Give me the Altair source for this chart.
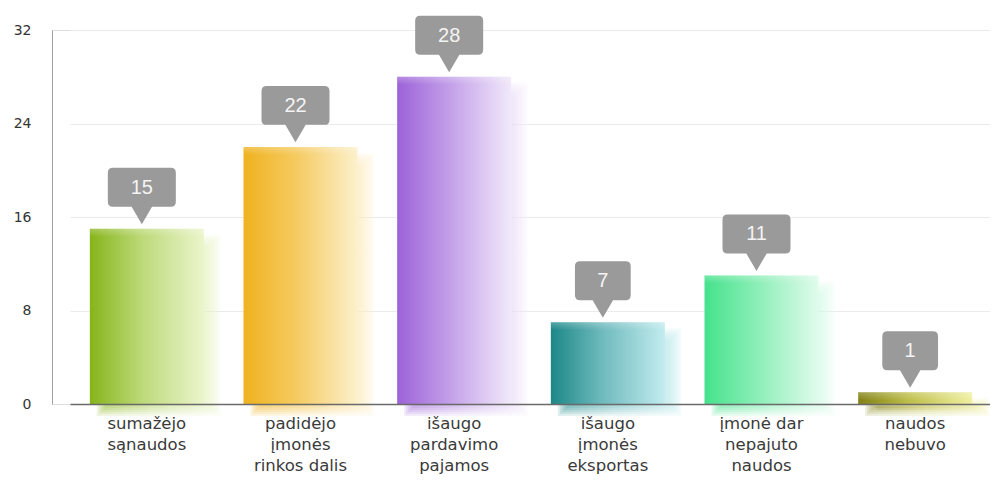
import altair as alt
import pandas as pd

categories = [
    "sumažėjo|sąnaudos",
    "padidėjo|įmonės|rinkos dalis",
    "išaugo|pardavimo|pajamos",
    "išaugo|įmonės|eksportas",
    "įmonė dar|nepajuto|naudos",
    "naudos|nebuvo",
]
values = [15, 22, 28, 7, 11, 1]
y_ticks = [0, 8, 16, 24, 32]

# style palette: (strong, mid, pale)
palette = [
    ("#86b41a", "#bcd978", "#ebf5cc"),
    ("#efb21f", "#f5ca5e", "#fcf0cc"),
    ("#9c62d8", "#c29ee8", "#f1e9fa"),
    ("#1c8787", "#6fbabd", "#c2ecef"),
    ("#45e28c", "#8aeeb6", "#e0fbec"),
    ("#818116", "#bfbf4c", "#f0f0a2"),
]

df = pd.DataFrame({"cat": categories, "val": values, "idx": list(range(len(values)))})
df["digits"] = df["val"].astype(str).str.len()

W, H = 938, 374
x_enc = alt.X(
    "cat:N",
    sort=categories,
    scale=alt.Scale(range=[18, 940], paddingInner=0.258, paddingOuter=0.129),
    axis=alt.Axis(
        title=None,
        labelAngle=0,
        labelExpr="split(datum.value, '|')",
        labelFont="DejaVu Sans",
        labelFontSize=16.5,
        labelColor="#3a3a3a",
        labelLineHeight=21,
        labelPadding=11,
        ticks=False,
        domainColor="#6a6a6a",
        domainWidth=1.5,
        grid=False,
        zindex=2,
    ),
)
y_enc = alt.Y(
    "val:Q",
    scale=alt.Scale(domain=[0, 32], nice=False),
    axis=alt.Axis(
        title=None,
        values=y_ticks,
        labelFont="DejaVu Sans",
        labelFontSize=14,
        labelColor="#333333",
        labelPadding=21,
        ticks=False,
        domainColor="#a0a0a0",
        gridColor="#ebebeb",
        grid=True,
    ),
)

base = alt.Chart(df)
layers = []


def hgrad(c):
    return alt.Gradient(
        gradient="linear",
        x1=0, x2=1, y1=0, y2=0,
        stops=[
            alt.GradientStop(color=c[0], offset=0),
            alt.GradientStop(color=c[1], offset=0.45),
            alt.GradientStop(color=c[2], offset=1),
        ],
    )


for i, c in enumerate(palette):
    sub = base.transform_filter(alt.datum.idx == i)
    g = hgrad(c)
    # soft shadow made of stacked translucent rectangles
    for e in (-6, -4, -2, 0, 2, 4, 6):
        layers.append(
            sub.mark_bar(
                fill=g, opacity=0.14, width=112 + 2 * e,
                xOffset=12, yOffset=12 - e, y2Offset=6 + e,
            ).encode(x=x_enc, y=y_enc, y2=alt.datum(0))
        )
    # main bar
    layers.append(sub.mark_bar(fill=g, width=114).encode(x=x_enc, y=y_enc, y2=alt.datum(0)))
    # top highlight
    layers.append(
        sub.mark_bar(
            width=114,
            y2Offset=8,
            fill=alt.Gradient(
                gradient="linear", x1=0, x2=0, y1=0, y2=1,
                stops=[
                    alt.GradientStop(color="rgba(255,255,255,0.25)", offset=0),
                    alt.GradientStop(color="rgba(255,255,255,0)", offset=1),
                ],
            ),
        ).encode(x=x_enc, y=y_enc, y2="val:Q")
    )

path2 = ("M -0.85 -1 L 0.85 -1 Q 1 -1 1 -0.85 L 1 0.0 Q 1 0.147 0.85 0.147 "
         "L 0.3 0.147 L 0 0.66 L -0.3 0.147 L -0.85 0.147 Q -1 0.147 -1 0.0 "
         "L -1 -0.85 Q -1 -1 -0.85 -1 Z")
path1 = ("M -0.67 -1 L 0.67 -1 Q 0.82 -1 0.82 -0.85 L 0.82 0.0 Q 0.82 0.147 0.67 0.147 "
         "L 0.3 0.147 L 0 0.66 L -0.3 0.147 L -0.67 0.147 Q -0.82 0.147 -0.82 0.0 "
         "L -0.82 -0.85 Q -0.82 -1 -0.67 -1 Z")

callouts = base.mark_point(
    filled=True, fill="#9a9a9a", opacity=1, strokeWidth=0,
    size=4624, yOffset=-27, xOffset=-5,
).encode(
    x=x_enc, y=y_enc,
    shape=alt.Shape("digits:N", scale=alt.Scale(domain=[1, 2], range=[path1, path2]), legend=None),
)
labels = base.mark_text(
    font="Liberation Sans", fontSize=20, color="#f4f4f4",
    baseline="middle", align="center", yOffset=-41, xOffset=-5,
).encode(x=x_enc, y=y_enc, text="val:Q")

chart = alt.layer(*layers, callouts, labels).properties(
    width=W, height=H,
    autosize=alt.AutoSizeParams(type="none"),
    padding={"left": 44, "top": 22, "right": 0, "bottom": 70},
).configure_view(stroke=None).configure(background="white")

chart.save("out.html", embed_options={"renderer": "svg", "actions": False})
